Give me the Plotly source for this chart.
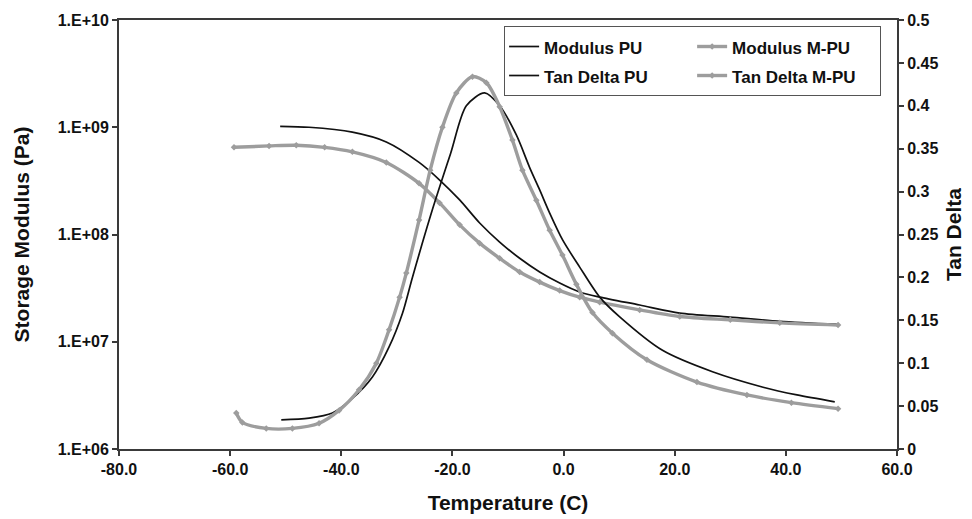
import plotly.graph_objects as go

# ---------------- data ----------------
temp_mod_pu = [-51.0, -45.8, -38.0, -31.9, -26.0, -22.3, -18.7, -15.1, -11.5, -7.9, -4.3, -0.7, 2.9, 6.5, 13.7, 20.9, 29.9, 38.9, 49.4]
mod_pu = [1.02e9, 1.0e9, 9.0e8, 7.3e8, 4.7e8, 3.22e8, 2.1e8, 1.28e8, 8.5e7, 6.0e7, 4.47e7, 3.53e7, 2.91e7, 2.61e7, 2.2e7, 1.85e7, 1.7e7, 1.55e7, 1.45e7]

temp_mod_mpu = [-59.3, -53.0, -48.1, -43.0, -38.0, -31.9, -26.0, -22.3, -18.7, -15.1, -11.5, -7.9, -4.3, -0.7, 2.9, 6.5, 13.7, 20.9, 30.0, 38.9, 49.4]
mod_mpu = [6.5e8, 6.7e8, 6.8e8, 6.5e8, 5.9e8, 4.7e8, 3.0e8, 1.97e8, 1.23e8, 8.3e7, 6.0e7, 4.47e7, 3.6e7, 3.0e7, 2.6e7, 2.34e7, 1.98e7, 1.72e7, 1.6e7, 1.5e7, 1.43e7]

temp_tan_pu = [-50.8, -45.8, -41.6, -38.0, -34.4, -31.4, -29.0, -27.2, -23.6, -20.3, -17.5, -14.2, -11.5, -8.5, -6.1, -4.3, -2.5, -0.2, 2.9, 6.5, 10.1, 17.8, 26.8, 35.9, 42.0, 48.8]
tan_pu = [0.034, 0.036, 0.042, 0.059, 0.084, 0.119, 0.158, 0.200, 0.279, 0.345, 0.400, 0.415, 0.400, 0.366, 0.328, 0.302, 0.275, 0.244, 0.212, 0.177, 0.154, 0.115, 0.090, 0.072, 0.063, 0.055]

temp_tan_mpu = [-58.9, -57.8, -53.5, -48.8, -44.0, -40.4, -36.8, -33.7, -31.4, -29.5, -28.3, -26.0, -24.0, -21.8, -19.3, -16.4, -13.9, -11.5, -9.2, -7.4, -4.9, -2.5, -0.2, 2.3, 5.2, 8.8, 15.0, 24.0, 33.0, 41.0, 49.4]
tan_mpu = [0.042, 0.031, 0.024, 0.024, 0.030, 0.045, 0.069, 0.100, 0.139, 0.177, 0.205, 0.267, 0.325, 0.375, 0.415, 0.434, 0.427, 0.399, 0.360, 0.325, 0.290, 0.255, 0.226, 0.192, 0.159, 0.135, 0.104, 0.078, 0.063, 0.054, 0.047]

x_ticks = [-80, -60, -40, -20, 0, 20, 40, 60]
x_tick_text = ["-80.0", "-60.0", "-40.0", "-20.0", "0.0", "20.0", "40.0", "60.0"]
y_ticks = [1e6, 1e7, 1e8, 1e9, 1e10]
y_tick_text = ["1.E+06", "1.E+07", "1.E+08", "1.E+09", "1.E+10"]
y2_ticks = [0, 0.05, 0.1, 0.15, 0.2, 0.25, 0.3, 0.35, 0.4, 0.45, 0.5]
y2_tick_text = ["0", "0.05", "0.1", "0.15", "0.2", "0.25", "0.3", "0.35", "0.4", "0.45", "0.5"]

# ---------------- styles ----------------
BLACK = "#111111"
GRAY = "#9d9d9d"
AX = "#3a3a3a"
FONT = "Liberation Sans, Arial, sans-serif"


def lbl(s):
    return "<span style='font-size:17px;font-weight:bold'>" + s + "</span>"


fig = go.Figure()
fig.add_trace(go.Scatter(x=temp_mod_pu, y=mod_pu, name=lbl("Modulus PU"), mode="lines",
                         line=dict(color=BLACK, width=1.7, shape="spline", smoothing=0.8),
                         legendgroup="pu", yaxis="y"))
fig.add_trace(go.Scatter(x=temp_tan_pu, y=tan_pu, name=lbl("Tan Delta PU"), mode="lines",
                         line=dict(color=BLACK, width=1.7, shape="spline", smoothing=0.8),
                         legendgroup="pu", yaxis="y2"))
fig.add_trace(go.Scatter(x=temp_mod_mpu, y=mod_mpu, name=lbl("Modulus M-PU"), mode="lines+markers",
                         line=dict(color=GRAY, width=3.4, shape="spline", smoothing=0.8),
                         marker=dict(symbol="diamond", size=5, color=GRAY),
                         legendgroup="mpu", yaxis="y"))
fig.add_trace(go.Scatter(x=temp_tan_mpu, y=tan_mpu, name=lbl("Tan Delta M-PU"), mode="lines+markers",
                         line=dict(color=GRAY, width=3.4, shape="spline", smoothing=0.8),
                         marker=dict(symbol="diamond", size=5, color=GRAY),
                         legendgroup="mpu", yaxis="y2"))

tickfont = dict(family=FONT, size=16, color="#111111", weight="bold")
titlefont = dict(family=FONT, size=21, color="#111111", weight="bold")

fig.update_layout(
    width=972, height=511,
    margin=dict(l=111, r=83, t=12, b=70, autoexpand=False),
    paper_bgcolor="white", plot_bgcolor="white",
    font=dict(family=FONT, color="#111111"),
    showlegend=True,
    legend=dict(
        orientation="h", traceorder="grouped", tracegroupgap=0,
        x=0.495, xanchor="left", y=0.986, yanchor="top",
        bgcolor="white", bordercolor="#555555", borderwidth=1,
        font=dict(family=FONT, size=20, color="#111111"),
        entrywidth=143,
    ),
    xaxis=dict(
        range=[-80, 60], tickvals=x_ticks, ticktext=x_tick_text,
        showgrid=False, zeroline=False, showline=True, mirror=True, automargin=False,
        linecolor=AX, linewidth=2, ticks="outside", ticklen=5, tickwidth=1.5, tickcolor=AX,
        tickfont=tickfont,
        title=dict(text="Temperature (C)", font=titlefont, standoff=18),
    ),
    yaxis=dict(
        type="log", range=[6, 10], tickvals=y_ticks, ticktext=y_tick_text,
        showgrid=False, zeroline=False, showline=True, automargin=False,
        linecolor=AX, linewidth=2, ticks="outside", ticklen=5, tickwidth=1.5, tickcolor=AX,
        tickfont=tickfont,
        title=dict(text="Storage Modulus (Pa)", font=titlefont, standoff=22),
    ),
    yaxis2=dict(
        range=[0, 0.5], tickvals=y2_ticks, ticktext=y2_tick_text,
        overlaying="y", side="right", automargin=False,
        showgrid=False, zeroline=False, showline=True,
        linecolor=AX, linewidth=2, ticks="outside", ticklen=5, tickwidth=1.5, tickcolor=AX,
        tickfont=tickfont,
        title=dict(text="Tan Delta", font=titlefont, standoff=9),
    ),
)

fig.write_html("out.html")
